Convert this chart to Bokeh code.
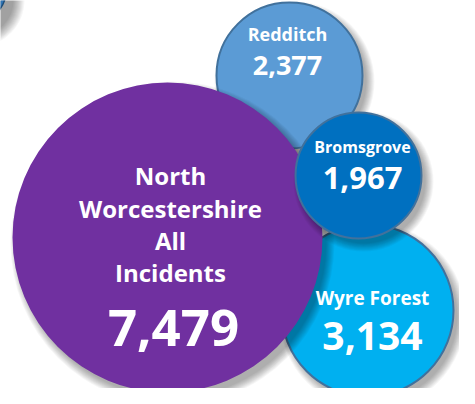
from bokeh.plotting import figure
from bokeh.models import Range1d
from bokeh.core.properties import value
from bokeh.embed import file_html
from bokeh.resources import INLINE

# ---- data ----
districts = ["Redditch", "Bromsgrove", "Wyre Forest"]
district_incidents = [2377, 1967, 3134]
total_lines = ["North", "Worcestershire", "All", "Incidents"]
total_incidents = 7479

# ---- layout (in reference pixel coordinates) ----
d_cx = [289, 358, 367]
d_cy = [75, 175, 310]
d_r = [73, 63, 86]
d_fill = ["#5B9BD5", "#0070C0", "#00B0F0"]
d_text_x = [287, 362, 372]
d_name_y = [33, 146, 297]
d_val_y = [65, 177, 335]
d_name_size = ["18px", "16px", "19px"]
d_val_size = ["27px", "31px", "39px"]

t_cx, t_cy, t_r = 167, 237, 155
t_fill = "#7030A0"
t_line_y = [175, 208, 240, 272]
t_val_y = 327

p = figure(width=459, height=388, x_range=Range1d(0, 459), y_range=Range1d(388, 0),
           output_backend="svg", toolbar_location=None, min_border=0)
p.axis.visible = False
p.grid.visible = False
p.outline_line_color = None
p.background_fill_color = "white"


def shadow(cx, cy, r, dx=5, dy=6, spread=7, n=10):
    for k in range(n):
        p.circle(x=cx + dx, y=cy + dy, radius=r + spread - k * (spread + 2) / n,
                 fill_color="black", fill_alpha=0.035, line_color=None)


def bubble(cx, cy, r, fill, outline=True):
    shadow(cx, cy, r)
    p.circle(x=cx, y=cy, radius=r, fill_color=fill,
             line_color="#41719C" if outline else None, line_width=2)


# corner fragment of a neighbouring graphic
shadow(-30, -12, 36, dx=8, dy=12, spread=10, n=12)
p.circle(x=-30, y=-12, radius=36, fill_color="#2E75B6", line_color="#1F4E79", line_width=1.5)

bubble(d_cx[0], d_cy[0], d_r[0], d_fill[0])
bubble(d_cx[2], d_cy[2], d_r[2], d_fill[2])
bubble(t_cx, t_cy, t_r, t_fill, outline=False)
bubble(d_cx[1], d_cy[1], d_r[1], d_fill[1])

font = value("Open Sans")
for i, name in enumerate(districts):
    p.text(x=[d_text_x[i]], y=[d_name_y[i]], text=[name],
           text_font=font, text_font_style="bold", text_font_size=d_name_size[i],
           text_color="white", text_align="center", text_baseline="middle")
    p.text(x=[d_text_x[i]], y=[d_val_y[i]], text=[f"{district_incidents[i]:,}"],
           text_font=font, text_font_style="bold", text_font_size=d_val_size[i],
           text_color="white", text_align="center", text_baseline="middle")

p.text(x=[170] * len(total_lines), y=t_line_y, text=total_lines,
       text_font=font, text_font_style="bold", text_font_size="24px",
       text_color="white", text_align="center", text_baseline="middle")
p.text(x=[173], y=[t_val_y], text=[f"{total_incidents:,}"],
       text_font=font, text_font_style="bold", text_font_size="51px",
       text_color="white", text_align="center", text_baseline="middle")

open("out.html", "w").write(file_html(p, INLINE))
